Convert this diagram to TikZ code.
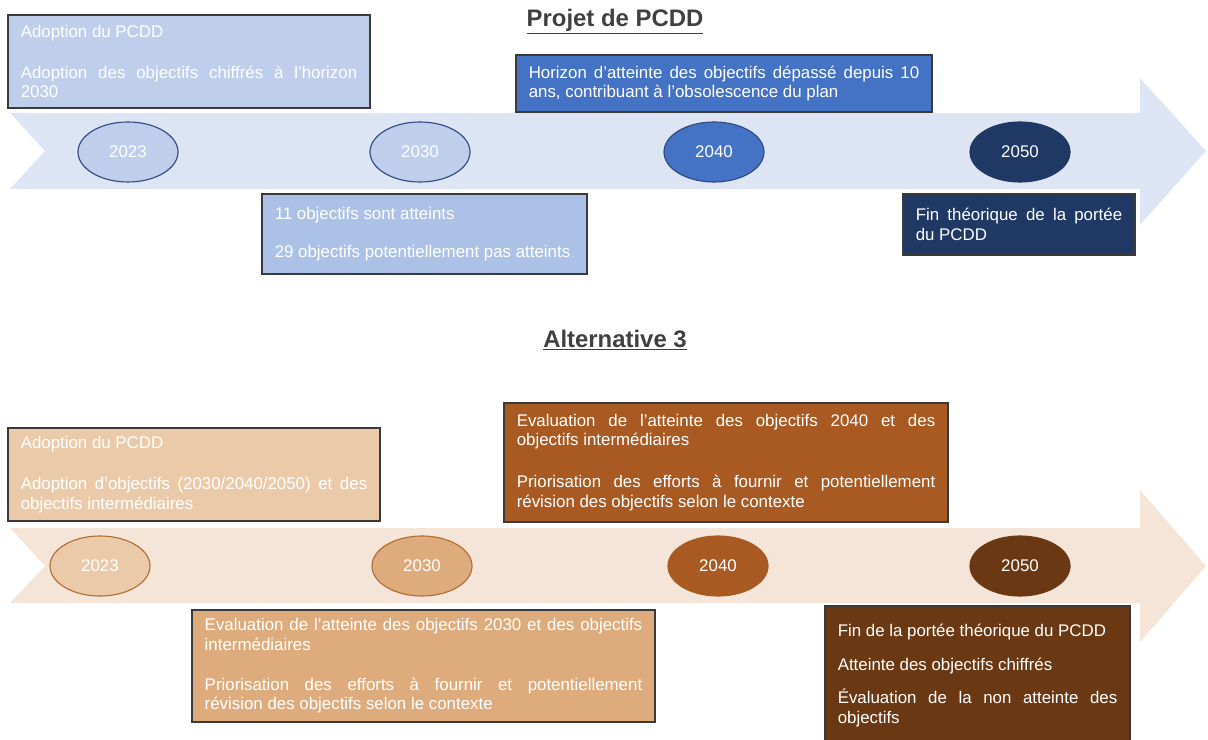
\documentclass[tikz,border=0pt]{standalone}
\usepackage{fontspec}
\setmainfont{Liberation Sans}
\usetikzlibrary{shapes.geometric}
\tolerance=10000
\hbadness=10000

\definecolor{bandblue}{HTML}{DDE5F4}
\definecolor{paleblue}{HTML}{BFCEEA}
\definecolor{softblue}{HTML}{ABC1E6}
\definecolor{midblue}{HTML}{4472C4}
\definecolor{navyblue}{HTML}{203864}
\definecolor{blueline}{HTML}{2F4A80}
\definecolor{bandpeach}{HTML}{F4E5D8}
\definecolor{palepeach}{HTML}{EACAA8}
\definecolor{tanbrown}{HTML}{DDAB7C}
\definecolor{rustbrown}{HTML}{A85A22}
\definecolor{darkbrown}{HTML}{6A3913}
\definecolor{brownline}{HTML}{B26C31}
\definecolor{boxline}{HTML}{3A3A3A}
\definecolor{headgray}{HTML}{404040}

\begin{document}
\begin{tikzpicture}[x=0.025cm,y=-0.025cm,
  year/.style={ellipse,draw,line width=0.8pt,minimum width=2.5cm,minimum height=1.5cm,text=white,font=\fontsize{12}{14}\selectfont},
  event/.style={draw=boxline,line width=1pt,text=white,align=justify,inner xsep=0.32cm,inner ysep=2pt,font=\fontsize{12}{14}\selectfont},
  heading/.style={text=headgray,font=\fontsize{17}{20}\selectfont\bfseries}]
\useasboundingbox (0,0) rectangle (1208,740);

% Projet de PCDD
\draw (615,22) node[heading](title1) {\underline{Projet de PCDD}};
\fill[bandblue] (10,113) -- (1140,113) -- (1140,78) -- (1206,151) -- (1140,225) -- (1140,189) -- (10,189) -- (45,151) -- cycle;
\draw (128,152) node[year,fill=paleblue,draw=blueline](p23) {2023};
\draw (420,152) node[year,fill=paleblue,draw=blueline](p30) {2030};
\draw (714,152) node[year,fill=midblue,draw=blueline](p40) {2040};
\draw (1020,152) node[year,fill=navyblue,draw=navyblue](p50) {2050};
\draw (189,61.5) node[event,fill=paleblue,text width=8.41cm,minimum height=2.325cm](pa) {Adoption du PCDD\\[15pt]Adoption des objectifs chiffrés à l'horizon\linebreak 2030};
\draw (724,83.5) node[event,fill=midblue,text width=9.76cm,minimum height=1.425cm](pb) {Horizon d'atteinte des objectifs dépassé depuis 10\linebreak ans, contribuant à l'obsolescence du plan};
\draw (424.5,234) node[event,fill=softblue,text width=7.485cm,minimum height=2cm](pc) {11 objectifs sont atteints\\[13pt]29 objectifs potentiellement pas atteints};
\draw (1019,224.5) node[event,fill=navyblue,text width=5.16cm,minimum height=1.525cm](pd) {Fin théorique de la portée\linebreak du PCDD};

% Alternative 3
\draw (615,340) node[heading](title2) {\underline{Alternative 3}};
\fill[bandpeach] (10,528) -- (1140,528) -- (1140,490) -- (1206,566) -- (1140,642) -- (1140,603) -- (10,603) -- (45,566) -- cycle;
\draw (100,566) node[year,fill=palepeach,draw=brownline](a23) {2023};
\draw (422,566) node[year,fill=tanbrown,draw=brownline](a30) {2030};
\draw (718,566) node[year,fill=rustbrown,draw=rustbrown](a40) {2040};
\draw (1020,566) node[year,fill=darkbrown,draw=darkbrown](a50) {2050};
\draw (194,474.5) node[event,fill=palepeach,text width=8.66cm,minimum height=2.325cm](aa) {Adoption du PCDD\\[15pt]Adoption d'objectifs (2030/2040/2050) et des\linebreak objectifs intermédiaires};
\draw (726,462.5) node[event,fill=rustbrown,text width=10.46cm,minimum height=2.975cm](ab) {Evaluation de l'atteinte des objectifs 2040 et des\linebreak objectifs intermédiaires\\[16pt]Priorisation des efforts à fournir et potentiellement\linebreak révision des objectifs selon le contexte};
\draw (423.5,666) node[event,fill=tanbrown,text width=10.935cm,minimum height=2.8cm](ac) {Evaluation de l'atteinte des objectifs 2030 et des objectifs\linebreak intermédiaires\\[14pt]Priorisation des efforts à fournir et potentiellement\linebreak révision des objectifs selon le contexte};
\draw (977.5,675.5) node[event,fill=darkbrown,text width=6.985cm,minimum height=3.475cm](ad) {Fin de la portée théorique du PCDD\\[10pt]Atteinte des objectifs chiffrés\\[10pt]Évaluation de la non atteinte des\linebreak objectifs};
\end{tikzpicture}
\end{document}
